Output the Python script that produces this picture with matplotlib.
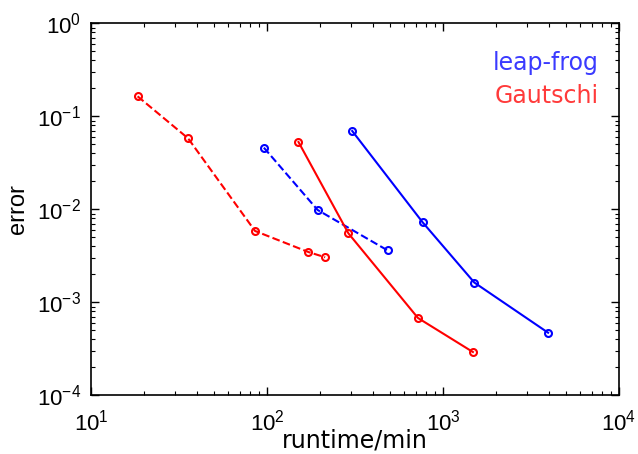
import matplotlib
matplotlib.use("Agg")
import matplotlib.pyplot as plt
from matplotlib.ticker import LogLocator, NullFormatter

plt.rcParams['font.family'] = ['Liberation Sans', 'DejaVu Sans']
plt.rcParams['mathtext.fontset'] = 'custom'
plt.rcParams['mathtext.rm'] = 'Liberation Sans'

# leap-frog runs (solid = fine, dashed = coarse)
lf_solid_t = [305, 766, 1507, 3955]
lf_solid_err = [0.0695, 0.00725, 0.00163, 0.000471]
lf_dash_t = [96, 194, 484]
lf_dash_err = [0.0460, 0.00983, 0.00362]

# Gautschi runs
ga_solid_t = [151, 290, 721, 1479]
ga_solid_err = [0.0529, 0.00552, 0.000678, 0.000292]
ga_dash_t = [18.4, 35.6, 85.5, 172, 214]
ga_dash_err = [0.164, 0.058, 0.00585, 0.00347, 0.00305]

fig = plt.figure(figsize=(6.38, 4.54), dpi=100)
ax = fig.add_axes([0.1426, 0.1293, 0.8276, 0.8194])

mk = dict(marker='o', markersize=5, markerfacecolor='none', markeredgewidth=1.5, linewidth=1.5)
ax.loglog(lf_solid_t, lf_solid_err, '-', color='blue', markeredgecolor='blue', **mk)
ax.loglog(lf_dash_t, lf_dash_err, '--', color='blue', markeredgecolor='blue', **mk)
ax.loglog(ga_solid_t, ga_solid_err, '-', color='red', markeredgecolor='red', **mk)
ax.loglog(ga_dash_t, ga_dash_err, '--', color='red', markeredgecolor='red', **mk)

ax.set_xlim(10, 1e4)
ax.set_ylim(1e-4, 1)
ax.xaxis.set_major_locator(LogLocator(base=10, numticks=10))
ax.yaxis.set_major_locator(LogLocator(base=10, numticks=10))
ax.xaxis.set_minor_locator(LogLocator(base=10, subs=range(2, 10), numticks=20))
ax.yaxis.set_minor_locator(LogLocator(base=10, subs=range(2, 10), numticks=20))
ax.xaxis.set_minor_formatter(NullFormatter())
ax.yaxis.set_minor_formatter(NullFormatter())

ax.tick_params(which='both', direction='in', top=True, right=True, labelsize=16)
ax.tick_params(which='major', length=6, width=1)
ax.tick_params(which='minor', length=3, width=0.8)
ax.tick_params(axis='x', pad=10)
ax.tick_params(axis='y', pad=7)
for s in ax.spines.values():
    s.set_linewidth(1.2)

ax.set_xlabel('runtime/min', fontsize=17, labelpad=-5, family='DejaVu Sans')
ax.set_ylabel('error', fontsize=17, labelpad=6)

ax.text(0.962, 0.8745, 'leap-frog', color='#3a3aff', fontsize=17, ha='right', va='baseline',
        transform=ax.transAxes, family='DejaVu Sans')
ax.text(0.962, 0.7866, 'Gautschi', color='#ff3a3a', fontsize=17, ha='right', va='baseline',
        transform=ax.transAxes, family='DejaVu Sans')

fig.savefig('out.png', dpi=100)
